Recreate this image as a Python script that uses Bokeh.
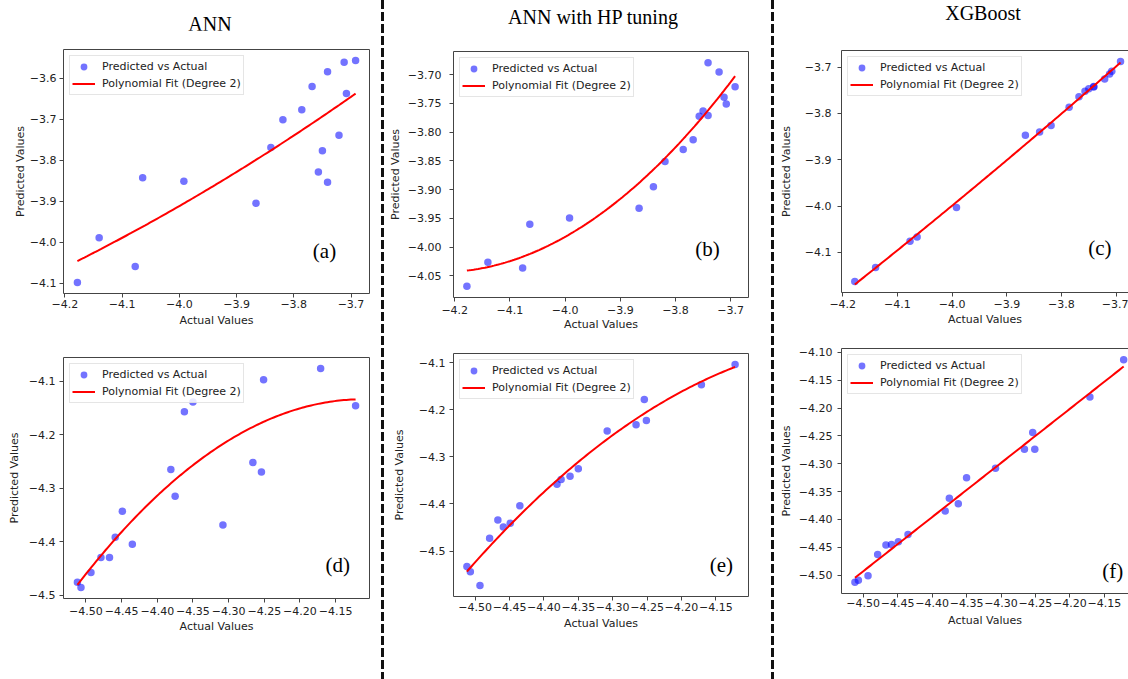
import numpy as np
from bokeh.plotting import figure
from bokeh.layouts import row, column
from bokeh.models import (Div, Label, Legend, LegendItem, FixedTicker, LinearAxis, Range1d,
                          CustomJSTickFormatter)
from bokeh.embed import file_html
from bokeh.resources import INLINE

# ---------------- data ----------------
actual_top = [-4.178, -4.140, -4.077, -4.064, -3.992, -3.866, -3.840, -3.819, -3.786,
              -3.768, -3.757, -3.750, -3.741, -3.741, -3.721, -3.712, -3.708, -3.692]
pred_ann_top = [-4.098, -3.989, -4.059, -3.843, -3.851, -3.905, -3.769, -3.701, -3.677,
                -3.620, -3.829, -3.777, -3.584, -3.854, -3.739, -3.561, -3.637, -3.557]
pred_hp_top = [-4.068, -4.026, -4.036, -3.960, -3.949, -3.932, -3.895, -3.851, -3.830,
               -3.813, -3.772, -3.763, -3.679, -3.771, -3.695, -3.739, -3.751, -3.721]
pred_xgb_top = [-4.163, -4.133, -4.076, -4.067, -4.003, -3.847, -3.840, -3.826, -3.787,
                -3.764, -3.752, -3.747, -3.743, -3.742, -3.726, -3.715, -3.709, -3.688]

actual_bot = [-4.512, -4.507, -4.493, -4.479, -4.467, -4.459, -4.449, -4.435, -4.381,
              -4.375, -4.362, -4.350, -4.308, -4.266, -4.254, -4.251, -4.171, -4.122]
pred_ann_bot = [-4.476, -4.486, -4.458, -4.430, -4.430, -4.392, -4.343, -4.405, -4.265,
                -4.315, -4.157, -4.139, -4.369, -4.252, -4.270, -4.097, -4.076, -4.146]
pred_hp_bot = [-4.533, -4.544, -4.573, -4.473, -4.434, -4.449, -4.441, -4.404, -4.358,
               -4.348, -4.341, -4.325, -4.245, -4.232, -4.178, -4.223, -4.147, -4.104]
pred_xgb_bot = [-4.513, -4.509, -4.501, -4.463, -4.446, -4.445, -4.440, -4.427, -4.385,
                -4.362, -4.372, -4.325, -4.308, -4.274, -4.244, -4.274, -4.180, -4.113]

column_titles = ["ANN", "ANN with HP tuning", "XGBoost"]
panel_tags = ["(a)", "(b)", "(c)", "(d)", "(e)", "(f)"]
scatter_label = "Predicted vs Actual"
fit_label = "Polynomial Fit (Degree 2)"
x_axis_title = "Actual Values"
y_axis_title = "Predicted Values"

x_ticks_top = [-4.2, -4.1, -4.0, -3.9, -3.8, -3.7]
x_labels_top = ["−4.2", "−4.1", "−4.0", "−3.9", "−3.8", "−3.7"]
x_ticks_bot = [-4.50, -4.45, -4.40, -4.35, -4.30, -4.25, -4.20, -4.15]
x_labels_bot = ["−4.50", "−4.45", "−4.40", "−4.35", "−4.30", "−4.25", "−4.20", "−4.15"]
y_ticks_a = [-4.1, -4.0, -3.9, -3.8, -3.7, -3.6]
y_labels_a = ["−4.1", "−4.0", "−3.9", "−3.8", "−3.7", "−3.6"]
y_ticks_b = [-4.05, -4.00, -3.95, -3.90, -3.85, -3.80, -3.75, -3.70]
y_labels_b = ["−4.05", "−4.00", "−3.95", "−3.90", "−3.85", "−3.80", "−3.75", "−3.70"]
y_ticks_c = [-4.1, -4.0, -3.9, -3.8, -3.7]
y_labels_c = ["−4.1", "−4.0", "−3.9", "−3.8", "−3.7"]
y_ticks_d = [-4.5, -4.4, -4.3, -4.2, -4.1]
y_labels_d = ["−4.5", "−4.4", "−4.3", "−4.2", "−4.1"]
y_ticks_e = [-4.5, -4.4, -4.3, -4.2, -4.1]
y_labels_e = ["−4.5", "−4.4", "−4.3", "−4.2", "−4.1"]
y_ticks_f = [-4.50, -4.45, -4.40, -4.35, -4.30, -4.25, -4.20, -4.15, -4.10]
y_labels_f = ["−4.50", "−4.45", "−4.40", "−4.35", "−4.30", "−4.25", "−4.20", "−4.15", "−4.10"]

# ---------------- styling ----------------
SANS = "DejaVu Sans"
SERIF = "Liberation Serif"
TXT = "#222222"
SPINE = "#444444"

LOOKUP = """
for (let i = 0; i < tvals.length; i++) {
  if (Math.abs(tvals[i] - tick) < 1e-6) { return tlabels[i]; }
}
return "";
"""


def make_panel(x, y, xt, xl, yt, yl, tag, g):
    x = np.asarray(x, dtype=float)
    y = np.asarray(y, dtype=float)
    xspan = x.max() - x.min()
    yspan = y.max() - y.min()
    x0 = x.min() - 0.05 * xspan
    x1 = x.max() + g.get("xpad_r", 0.05) * xspan
    y0 = y.min() - 0.05 * yspan
    y1 = y.max() + 0.05 * yspan
    p = figure(width=g["w"], height=g["h"], x_range=Range1d(x0, x1), y_range=Range1d(y0, y1),
               output_backend="svg", toolbar_location=None,
               min_border_left=g["l"], min_border_right=g["r"],
               min_border_top=g["t"], min_border_bottom=g["b"])
    p.xgrid.visible = False
    p.ygrid.visible = False
    p.background_fill_color = "white"
    p.border_fill_color = "white"

    coef = np.polyfit(x, y, 2)
    xf = np.linspace(x.min(), x.max(), 120)
    yf = np.polyval(coef, xf)

    sc = p.scatter(x, y, size=7.5, fill_color="blue", fill_alpha=0.55, line_color=None)
    ln = p.line(xf, yf, line_color="red", line_width=2)

    leg = Legend(items=[LegendItem(label=scatter_label, renderers=[sc]),
                        LegendItem(label=fit_label, renderers=[ln])],
                 location="top_left", margin=6, padding=2, spacing=0,
                 glyph_width=23, glyph_height=17, label_height=17, label_standoff=7,
                 label_text_font=SANS, label_text_font_size="11px", label_text_color=TXT,
                 border_line_color="#cccccc", border_line_width=1,
                 background_fill_color="white", background_fill_alpha=0.85)
    p.add_layout(leg)

    for ax, ticks, labels, title, mls, als in (
            (p.xaxis, xt, xl, x_axis_title, g["xmls"], g["xals"]),
            (p.yaxis, yt, yl, y_axis_title, g["ymls"], g["yals"])):
        ax.ticker = FixedTicker(ticks=ticks)
        ax.formatter = CustomJSTickFormatter(args=dict(tvals=ticks, tlabels=labels), code=LOOKUP)
        ax.axis_label = title
        ax.axis_label_text_font = SANS
        ax.axis_label_text_font_style = "normal"
        ax.axis_label_text_font_size = "11px"
        ax.axis_label_text_color = TXT
        ax.axis_label_standoff = als
        ax.major_label_text_font = SANS
        ax.major_label_text_font_size = "11px"
        ax.major_label_text_color = TXT
        ax.major_label_standoff = mls
        ax.major_tick_out = 4
        ax.major_tick_in = 0
        ax.major_tick_line_color = SPINE
        ax.minor_tick_line_color = None

    if g.get("clip"):
        p.outline_line_color = None
        p.xaxis.axis_line_color = SPINE
        p.yaxis.axis_line_color = SPINE
        top = LinearAxis(ticker=FixedTicker(ticks=[]), major_tick_line_color=None,
                         minor_tick_line_color=None, major_tick_out=0,
                         major_label_standoff=0, axis_line_color=SPINE)
        p.add_layout(top, "above")
    else:
        p.outline_line_color = SPINE
        p.outline_line_width = 1
        p.outline_line_alpha = 1
        p.xaxis.axis_line_color = None
        p.yaxis.axis_line_color = None

    p.add_layout(Label(x=x0 + g["fx"] * (x1 - x0), y=y0 + g["fy"] * (y1 - y0), text=tag,
                       text_font=SERIF, text_font_size="21px", text_color="black",
                       text_align="center", text_baseline="middle"))
    return p


def title_div(text, width, cx, top):
    html = ('<div style="position:relative;width:%dpx;height:30px;">'
            '<div style="position:absolute;left:%dpx;top:%dpx;width:300px;text-align:center;'
            'font-family:\'Liberation Serif\';font-size:20px;line-height:20px;color:#000;'
            'white-space:nowrap;">%s</div></div>' % (width, cx - 150, top, text))
    return Div(text=html, width=width, height=30, margin=0)


def sep_div(width, left, height):
    html = ('<div style="width:3px;height:%dpx;margin-left:%dpx;'
            'background:repeating-linear-gradient(to bottom,#111 0px,#111 9px,'
            'transparent 9px,transparent 12px);"></div>' % (height, left))
    return Div(text=html, width=width, height=height, margin=0)


geo = {
    "a": dict(w=380, h=305, l=63, r=10, t=19, b=42, xmls=2, xals=3, ymls=3, yals=0, fx=0.853, fy=0.176),
    "d": dict(w=380, h=344, l=62, r=11, t=22, b=81, xmls=4, xals=2, ymls=4, yals=5, fx=0.896, fy=0.137),
    "b": dict(w=384, h=305, l=64, r=11, t=21, b=38, xmls=4, xals=1, ymls=8, yals=3, fx=0.861, fy=0.199),
    "e": dict(w=384, h=344, l=58, r=21, t=18, b=83, xmls=2, xals=3, ymls=4, yals=10, fx=0.908, fy=0.128),
    "c": dict(w=352, h=305, l=55, r=0, t=20, b=43, xmls=3, xals=2, ymls=6, yals=9, fx=0.90, fy=0.182,
              clip=True, xpad_r=0.03),
    "f": dict(w=352, h=344, l=61, r=0, t=13, b=86, xmls=1, xals=4, ymls=5, yals=3, fx=0.945, fy=0.09,
              clip=True, xpad_r=0.018),
}

pa = make_panel(actual_top, pred_ann_top, x_ticks_top, x_labels_top, y_ticks_a, y_labels_a, panel_tags[0], geo["a"])
pb = make_panel(actual_top, pred_hp_top, x_ticks_top, x_labels_top, y_ticks_b, y_labels_b, panel_tags[1], geo["b"])
pc = make_panel(actual_top, pred_xgb_top, x_ticks_top, x_labels_top, y_ticks_c, y_labels_c, panel_tags[2], geo["c"])
pd_ = make_panel(actual_bot, pred_ann_bot, x_ticks_bot, x_labels_bot, y_ticks_d, y_labels_d, panel_tags[3], geo["d"])
pe = make_panel(actual_bot, pred_hp_bot, x_ticks_bot, x_labels_bot, y_ticks_e, y_labels_e, panel_tags[4], geo["e"])
pf = make_panel(actual_bot, pred_xgb_bot, x_ticks_bot, x_labels_bot, y_ticks_f, y_labels_f, panel_tags[5], geo["f"])

col1 = column(title_div(column_titles[0], 380, 210, 14), pa, pd_, spacing=0)
col2 = column(title_div(column_titles[1], 384, 208, 7), pb, pe, spacing=0)
col3 = column(title_div(column_titles[2], 352, 207, 3), pc, pf, spacing=0)

layout = row(col1, sep_div(5, 1, 679), col2, sep_div(7, 2, 679), col3, spacing=0)

open("out.html", "w").write(file_html(layout, INLINE))
